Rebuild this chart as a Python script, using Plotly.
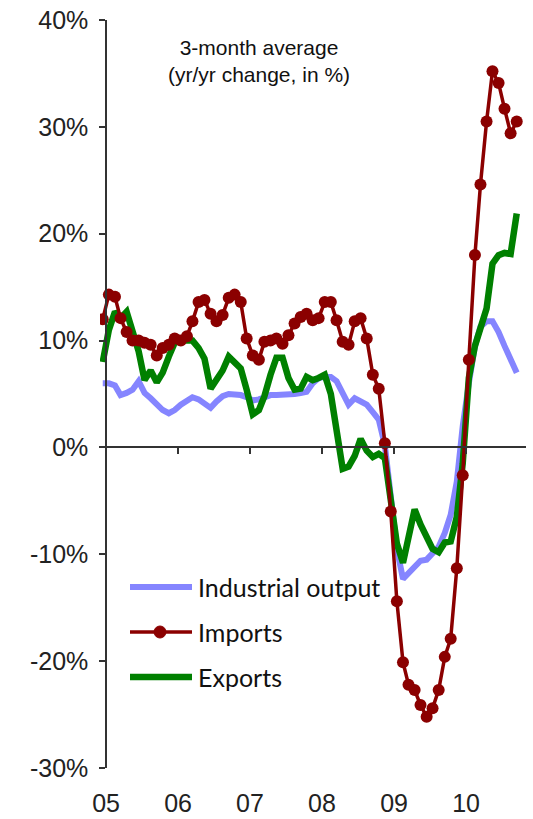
import pandas as pd
import plotly.graph_objects as go

# Monthly observations, Dec 2004 - Sep 2010 (3-month average, yr/yr % change)
months = pd.date_range("2004-12-01", periods=70, freq="MS") + pd.Timedelta(days=14)

industrial_output = [
    6.0, 6.0, 5.8, 4.9, 5.1, 5.4, 6.2, 5.1, 4.6, 4.1, 3.5, 3.2,
    3.5, 4.0, 4.4, 4.7, 4.5, 4.1, 3.7, 4.3, 4.8, 5.0, 5.0, 4.9,
    4.7, 4.4, 4.5, 4.7, 4.9, 4.9, 4.9, 5.0, 5.0, 5.1, 5.2, 6.0,
    6.5, 6.6, 6.6, 6.2, 5.2, 4.0, 4.6, 4.3, 4.0, 3.3, 2.6, 0.2,
    -4.5, -9.5, -12.3, -11.8, -11.2, -10.6, -10.5, -10.0, -9.3, -8.0, -6.3, -3.2,
    2.0, 6.0, 9.5, 11.3, 11.8, 11.8, 10.8, 9.5, 8.2, 7.0,
]

imports = [
    12.0, 14.3, 14.1, 12.1, 10.8, 10.0, 10.0, 9.8, 9.6, 8.6, 9.3, 9.6,
    10.2, 10.0, 10.4, 11.8, 13.6, 13.8, 12.5, 11.8, 12.4, 14.0, 14.3, 13.6,
    10.2, 8.6, 8.2, 9.9, 10.0, 10.2, 9.7, 10.5, 11.6, 12.2, 12.5, 11.9,
    12.1, 13.6, 13.6, 11.9, 9.9, 9.6, 11.8, 12.1, 10.2, 6.8, 5.5, 0.4,
    -6.0, -14.4, -20.1, -22.2, -22.7, -24.1, -25.2, -24.4, -22.7, -19.6, -17.9, -11.3,
    -2.6, 8.2, 18.0, 24.6, 30.5, 35.2, 34.1, 31.7, 29.4, 30.5,
]

exports = [
    8.0, 11.0, 12.7, 12.1, 12.7, 11.0, 9.0, 6.3, 7.2, 6.1, 7.0, 8.5,
    9.8, 10.0, 10.0, 10.0, 9.3, 8.3, 5.5, 6.3, 7.2, 8.5, 8.0, 7.4,
    5.4, 3.1, 3.5, 4.8, 6.8, 8.4, 8.4, 6.5, 5.4, 5.5, 6.6, 6.3,
    6.5, 6.8, 5.0, 1.5, -2.0, -1.8, -0.8, 0.8, -0.3, -0.9, -0.6, -1.0,
    -4.5, -9.0, -10.8, -8.5, -5.8, -7.2, -8.4, -9.5, -9.8, -8.9, -8.8, -6.5,
    -1.5, 6.5, 9.5, 11.0, 13.0, 17.2, 18.0, 18.2, 18.1, 21.9,
]

year_ticks = ["2005-01-01", "2006-01-01", "2007-01-01", "2008-01-01", "2009-01-01", "2010-01-01"]
year_labels = ["05", "06", "07", "08", "09", "10"]
y_ticks = [-30, -20, -10, 0, 10, 20, 30, 40]
y_labels = ["-30%", "-20%", "-10%", "0%", "10%", "20%", "30%", "40%"]

series_names = ["Industrial output", "Imports", "Exports"]
BLUE = "#8585ff"
RED = "#8b0000"
GREEN = "#008000"
AXIS = "#333333"

x_start = pd.Timestamp("2004-12-01")
x_end = pd.Timestamp("2010-11-01")
y_min, y_max = -30, 40

# where the value axis crosses the time axis (start of 2005)
y_axis_pos = (pd.Timestamp("2005-01-01") - x_start) / (x_end - x_start)
# where the time axis crosses the value axis (zero)
x_axis_pos = (0 - y_min) / (y_max - y_min)

fig = go.Figure()
fig.add_trace(go.Scatter(x=months, y=industrial_output, name=series_names[0], mode="lines",
                         line=dict(color=BLUE, width=6), showlegend=False))
fig.add_trace(go.Scatter(x=months, y=exports, name=series_names[2], mode="lines",
                         line=dict(color=GREEN, width=6.5), showlegend=False))
fig.add_trace(go.Scatter(x=months, y=imports, name=series_names[1], mode="lines+markers",
                         line=dict(color=RED, width=3.5),
                         marker=dict(color=RED, size=12, symbol="circle"), showlegend=False))
# carrier for the zero-crossing time axis
fig.add_trace(go.Scatter(x=[months[0]], y=[None], xaxis="x2", mode="lines",
                         showlegend=False, hoverinfo="skip"))

# legend drawn as samples + labels inside the plot
legend_rows = [(587, BLUE, 6), (632, RED, 3.5), (677, GREEN, 6.5)]
W, H = 533, 819
L, R, T, B = 100, 7, 20, 51
pw, ph = W - L - R, H - T - B


def px_x(x):
    return (x - L) / pw


def px_y(y):
    return (H - B - y) / ph


shapes = []
annotations = []
for (yy, col, wd), name in zip(legend_rows, series_names):
    shapes.append(dict(type="line", xref="paper", yref="paper",
                       x0=px_x(130), x1=px_x(192), y0=px_y(yy), y1=px_y(yy),
                       line=dict(color=col, width=wd)))
    annotations.append(dict(xref="paper", yref="paper", x=px_x(196), y=px_y(yy),
                            xanchor="left", yanchor="middle", showarrow=False, text=name,
                            font=dict(family="Lato", size=25, color="#111111")))
shapes.append(dict(type="circle", xref="paper", yref="paper", xsizemode="pixel", ysizemode="pixel",
                   xanchor=px_x(160), yanchor=px_y(632), x0=-6, x1=6, y0=-6, y1=6,
                   fillcolor=RED, line=dict(color=RED, width=1)))

annotations.append(dict(xref="paper", yref="paper", x=px_x(259), y=px_y(61),
                        xanchor="center", yanchor="middle", showarrow=False,
                        text="3-month average<br>(yr/yr change, in %)",
                        font=dict(family="Liberation Sans", size=21, color="#111111")))

fig.update_layout(
    width=W, height=H,
    margin=dict(l=L, r=R, t=T, b=B, autoexpand=False),
    paper_bgcolor="white", plot_bgcolor="white",
    font=dict(family="Liberation Sans", size=25, color="#222222"),
    xaxis=dict(type="date", range=[x_start, x_end], showgrid=False, zeroline=False,
               showline=False, ticks="", tickmode="array", tickvals=year_ticks,
               ticktext=year_labels, ticklabelstandoff=18, anchor="y", automargin=False),
    xaxis2=dict(type="date", range=[x_start, x_end], matches="x", overlaying="x",
                showgrid=False, zeroline=False, showline=True, linecolor=AXIS, linewidth=1.5,
                ticks="outside", ticklen=6, tickwidth=1.5, tickcolor=AXIS,
                tickmode="array", tickvals=year_ticks, showticklabels=False,
                anchor="free", position=x_axis_pos, side="bottom", automargin=False),
    yaxis=dict(range=[y_min, y_max], showgrid=False, zeroline=False,
               showline=True, linecolor=AXIS, linewidth=1.5,
               ticks="outside", ticklen=6, tickwidth=1.5, tickcolor=AXIS,
               tickmode="array", tickvals=y_ticks, ticktext=y_labels,
               ticklabelstandoff=6, anchor="free", position=y_axis_pos, automargin=False),
    shapes=shapes,
    annotations=annotations,
    showlegend=False,
)

fig.write_html("out.html")
